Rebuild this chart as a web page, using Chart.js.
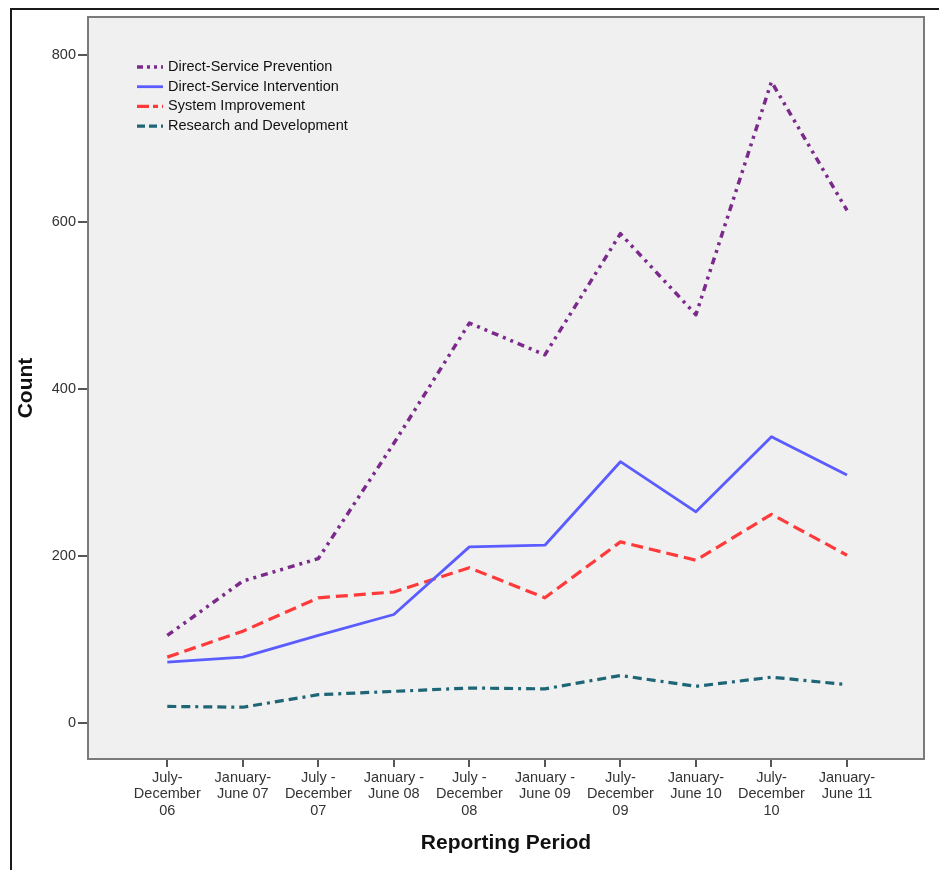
<!DOCTYPE html>
<html>
<head>
<meta charset="utf-8">
<script src="https://cdn.jsdelivr.net/npm/chart.js@4/dist/chart.umd.min.js"></script>
<style>
html,body{margin:0;padding:0;background:#fff;}
#wrap{position:relative;width:939px;height:870px;}
</style>
</head>
<body>
<div id="wrap"><canvas id="c" width="939" height="870"></canvas></div>
<script>
const periods = [
  ["July-","December","06"],
  ["January-","June 07"],
  ["July -","December","07"],
  ["January -","June 08"],
  ["July -","December","08"],
  ["January -","June 09"],
  ["July-","December","09"],
  ["January-","June 10"],
  ["July-","December","10"],
  ["January-","June 11"]
];
const prevention   = [105, 170, 197, 335, 479, 441, 586, 489, 768, 614];
const intervention = [73, 79, 105, 130, 211, 213, 313, 253, 343, 297];
const improvement  = [79, 110, 150, 157, 186, 150, 217, 195, 250, 201];
const research     = [20, 19, 34, 38, 42, 41, 57, 44, 55, 46];
const seriesNames = ["Direct-Service Prevention","Direct-Service Intervention","System Improvement","Research and Development"];
const yTicks = [0, 200, 400, 600, 800];

const FONT = "Arial, 'Liberation Sans', sans-serif";
const toXY = arr => arr.map((v, i) => ({x: i, y: v}));

const frame = {
  id: 'frame',
  beforeDraw(chart) {
    const {ctx, chartArea: a} = chart;
    ctx.save();
    ctx.fillStyle = '#f0f0f0';
    ctx.fillRect(a.left, a.top, a.right - a.left, a.bottom - a.top);
    ctx.strokeStyle = '#1a1a1a';
    ctx.lineWidth = 2;
    ctx.beginPath();
    ctx.moveTo(11, 870); ctx.lineTo(11, 9); ctx.lineTo(939, 9);
    ctx.stroke();
    ctx.restore();
  },
  afterDatasetsDraw(chart) {
    const {ctx, chartArea: a} = chart;
    ctx.save();
    ctx.strokeStyle = '#7a7a7a';
    ctx.lineWidth = 2;
    ctx.strokeRect(a.left, a.top, a.right - a.left, a.bottom - a.top);
    // legend
    ctx.font = '14.5px ' + FONT;
    ctx.textBaseline = 'middle';
    ctx.textAlign = 'left';
    chart.data.datasets.forEach((ds, i) => {
      const y = 67 + i * 19.7;
      ctx.save();
      ctx.strokeStyle = ds.borderColor;
      ctx.lineWidth = ds.borderWidth;
      ctx.setLineDash(ds.legendDash || []);
      ctx.beginPath();
      ctx.moveTo(137, y); ctx.lineTo(163, y);
      ctx.stroke();
      ctx.restore();
      ctx.fillStyle = '#111';
      ctx.fillText(ds.label, 168, y);
    });
    ctx.restore();
  }
};

new Chart(document.getElementById('c'), {
  type: 'line',
  data: {
    datasets: [
      {label: seriesNames[0], data: toXY(prevention), borderColor: '#7b2a8c', borderWidth: 3.5,
       borderDash: [7, 5, 3, 5, 3, 5], legendDash: [6, 4, 3, 4, 3, 4]},
      {label: seriesNames[1], data: toXY(intervention), borderColor: '#5b5cff', borderWidth: 2.8,
       borderDash: [], legendDash: []},
      {label: seriesNames[2], data: toXY(improvement), borderColor: '#ff3a3a', borderWidth: 3.2,
       borderDash: [12, 6], legendDash: [12, 4, 5, 4]},
      {label: seriesNames[3], data: toXY(research), borderColor: '#1e6676', borderWidth: 3.2,
       borderDash: [9, 5, 9, 5, 3, 5], legendDash: [8, 4, 8, 4]}
    ]
  },
  options: {
    responsive: false,
    animation: false,
    layout: {padding: {left: 0, top: 17, right: 15, bottom: 0}},
    elements: {point: {radius: 0}, line: {tension: 0, borderCapStyle: 'butt', borderJoinStyle: 'round'}},
    plugins: {legend: {display: false}, tooltip: {enabled: false}},
    scales: {
      x: {
        type: 'linear',
        min: -1.05, max: 10.02,
        afterBuildTicks(s) { s.ticks = periods.map((p, i) => ({value: i})); },
        afterFit(s) { s.height = 111; },
        ticks: {
          autoSkip: false, maxRotation: 0, minRotation: 0, padding: 3,
          color: '#333', font: {family: FONT, size: 14.5, lineHeight: 1.12},
          callback: (v) => periods[v]
        },
        grid: {drawOnChartArea: false, drawTicks: true, tickLength: 8, color: '#555', lineWidth: 2},
        border: {display: false},
        title: {display: true, text: 'Reporting Period', color: '#111',
                font: {family: FONT, size: 21, weight: 'bold'}, padding: {top: 0, bottom: 14}}
      },
      y: {
        min: -43, max: 845.5,
        afterBuildTicks(s) { s.ticks = yTicks.map(v => ({value: v})); },
        afterFit(s) { s.width = 88; },
        ticks: {padding: 2, color: '#333', font: {family: FONT, size: 14.5}},
        grid: {drawOnChartArea: false, drawTicks: true, tickLength: 10, color: '#555', lineWidth: 2},
        border: {display: false},
        title: {display: true, text: 'Count', color: '#111',
                font: {family: FONT, size: 21, weight: 'bold'}, padding: {top: 14, bottom: 0}}
      }
    }
  },
  plugins: [frame]
});
</script>
</body>
</html>
